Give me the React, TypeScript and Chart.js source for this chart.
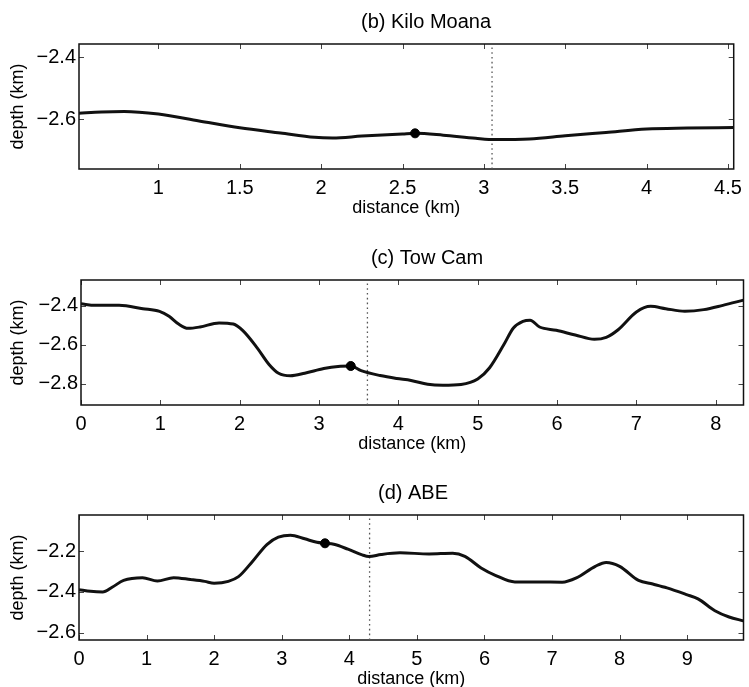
import React, { useEffect, useRef } from "react";
import { Chart, registerables } from "chart.js";

Chart.register(...registerables);

// ---------- (b) Kilo Moana ----------
const kiloDistance = [0.51, 0.65, 0.79, 1.0, 1.25, 1.5, 1.75, 1.96, 2.07, 2.25, 2.5, 2.58, 2.75, 2.95, 3.07, 3.28, 3.5, 3.75, 4.0, 4.25, 4.54];
const kiloDepth = [-2.581, -2.577, -2.5755, -2.584, -2.606, -2.628, -2.645, -2.659, -2.661, -2.655, -2.648, -2.646, -2.652, -2.662, -2.666, -2.664, -2.654, -2.643, -2.632, -2.629, -2.627];
const kiloDot = { x: 2.577, y: -2.646 };
const kiloMarker = 3.05;
const kiloXTicks = [1, 1.5, 2, 2.5, 3, 3.5, 4, 4.5];
const kiloYTicks = [-2.4, -2.6];

// ---------- (c) Tow Cam ----------
const towDistance = [0, 0.18, 0.48, 0.78, 0.99, 1.11, 1.23, 1.35, 1.5, 1.74, 1.92, 2.04, 2.22, 2.37, 2.49, 2.64, 2.82, 3.06, 3.24, 3.4, 3.53, 3.77, 3.98, 4.16, 4.37, 4.56, 4.79, 5.0, 5.15, 5.33, 5.45, 5.57, 5.66, 5.78, 5.99, 6.23, 6.47, 6.62, 6.77, 7.0, 7.18, 7.37, 7.61, 7.85, 8.09, 8.35];
const towDepth = [-2.39, -2.398, -2.398, -2.415, -2.429, -2.454, -2.494, -2.516, -2.509, -2.488, -2.494, -2.528, -2.616, -2.701, -2.746, -2.759, -2.746, -2.722, -2.711, -2.709, -2.733, -2.758, -2.773, -2.783, -2.803, -2.808, -2.804, -2.776, -2.718, -2.599, -2.514, -2.48, -2.474, -2.509, -2.526, -2.55, -2.572, -2.562, -2.523, -2.432, -2.403, -2.415, -2.428, -2.42, -2.398, -2.371];
const towDot = { x: 3.4, y: -2.709 };
const towMarker = 3.61;
const towXTicks = [0, 1, 2, 3, 4, 5, 6, 7, 8];
const towYTicks = [-2.4, -2.6, -2.8];

// ---------- (d) ABE ----------
const abeDistance = [0, 0.17, 0.35, 0.49, 0.66, 0.94, 1.16, 1.4, 1.65, 1.86, 2.0, 2.21, 2.36, 2.57, 2.78, 2.95, 3.13, 3.34, 3.52, 3.64, 3.77, 3.98, 4.19, 4.29, 4.47, 4.75, 5.18, 5.53, 5.71, 5.95, 6.16, 6.45, 6.8, 7.15, 7.36, 7.64, 7.8, 8.0, 8.28, 8.49, 8.7, 8.99, 9.16, 9.41, 9.62, 9.83];
const abeDepth = [-2.389, -2.397, -2.4, -2.377, -2.343, -2.33, -2.346, -2.33, -2.339, -2.348, -2.357, -2.348, -2.325, -2.249, -2.167, -2.131, -2.121, -2.139, -2.156, -2.161, -2.166, -2.19, -2.218, -2.226, -2.216, -2.208, -2.213, -2.21, -2.225, -2.282, -2.318, -2.351, -2.351, -2.352, -2.331, -2.274, -2.255, -2.274, -2.343, -2.361, -2.38, -2.413, -2.434, -2.492, -2.523, -2.542];
const abeDot = { x: 3.64, y: -2.161 };
const abeMarker = 4.3;
const abeXTicks = [0, 1, 2, 3, 4, 5, 6, 7, 8, 9];
const abeYTicks = [-2.2, -2.4, -2.6];

const FONT = "'Liberation Sans', Arial, Helvetica, sans-serif";
const W = 749;
const H = 230;
const BOX_TOP = 44;
const BOX_BOTTOM = 169;

type PanelDef = {
  title: string;
  xs: number[];
  ys: number[];
  dot: { x: number; y: number };
  marker: number;
  xTicks: number[];
  yTicks: number[];
  xMin: number;
  xMax: number;
  yMin: number;
  yMax: number;
  top: number;
  left: number;
  right: number;
  titleX: number;
};

const panels: PanelDef[] = [
  {
    title: "(b) Kilo Moana", xs: kiloDistance, ys: kiloDepth, dot: kiloDot, marker: kiloMarker,
    xTicks: kiloXTicks, yTicks: kiloYTicks, xMin: 0.512, xMax: 4.535, yMin: -2.761, yMax: -2.358,
    top: 0, left: 79, right: 739, titleX: 426,
  },
  {
    title: "(c) Tow Cam", xs: towDistance, ys: towDepth, dot: towDot, marker: towMarker,
    xTicks: towXTicks, yTicks: towYTicks, xMin: 0, xMax: 8.35, yMin: -2.909, yMax: -2.268,
    top: 236, left: 81, right: 747, titleX: 427,
  },
  {
    title: "(d) ABE", xs: abeDistance, ys: abeDepth, dot: abeDot, marker: abeMarker,
    xTicks: abeXTicks, yTicks: abeYTicks, xMin: 0, xMax: 9.833, yMin: -2.636, yMax: -2.022,
    top: 471, left: 79, right: 746, titleX: 413,
  },
];

const fmt = (v: number) => (v < 0 ? "\u2212" + String(Math.abs(v)) : String(v));

function PanelChart({ p }: { p: PanelDef }) {
  const ref = useRef<HTMLCanvasElement>(null);
  useEffect(() => {
    const boxPlugin = {
      id: "matlabBox",
      beforeDatasetsDraw(chart: any) {
        const { ctx, chartArea: a, scales } = chart;
        ctx.save();
        ctx.strokeStyle = "#444";
        ctx.lineWidth = 1;
        const tl = 5;
        p.xTicks.forEach((v) => {
          const x = Math.round(scales.x.getPixelForValue(v)) + 0.5;
          ctx.beginPath();
          ctx.moveTo(x, a.bottom);
          ctx.lineTo(x, a.bottom - tl);
          ctx.moveTo(x, a.top);
          ctx.lineTo(x, a.top + tl);
          ctx.stroke();
        });
        p.yTicks.forEach((v) => {
          const y = Math.round(scales.y.getPixelForValue(v)) + 0.5;
          ctx.beginPath();
          ctx.moveTo(a.left, y);
          ctx.lineTo(a.left + tl, y);
          ctx.moveTo(a.right, y);
          ctx.lineTo(a.right - tl, y);
          ctx.stroke();
        });
        ctx.strokeStyle = "#111";
        ctx.lineWidth = 1.5;
        ctx.strokeRect(a.left, a.top, a.right - a.left, a.bottom - a.top);
        ctx.restore();
      },
      afterDraw(chart: any) {
        const { ctx } = chart;
        ctx.save();
        ctx.fillStyle = "#000";
        ctx.font = `20px ${FONT}`;
        ctx.textAlign = "center";
        ctx.textBaseline = "middle";
        ctx.fillText(p.title, p.titleX, 22);
        ctx.restore();
      },
    };

    const chart = new Chart(ref.current as HTMLCanvasElement, {
      type: "line",
      data: {
        datasets: [
          {
            data: [p.dot],
            showLine: false,
            pointRadius: 4.5,
            pointBackgroundColor: "#000",
            pointBorderColor: "#000",
            order: 0,
          } as any,
          {
            data: p.xs.map((x, i) => ({ x, y: p.ys[i] })),
            borderColor: "#111",
            borderWidth: 3,
            pointRadius: 0,
            cubicInterpolationMode: "monotone",
            fill: false,
            order: 1,
          } as any,
          {
            data: [
              { x: p.marker, y: p.yMin },
              { x: p.marker, y: p.yMax },
            ],
            borderColor: "#555",
            borderWidth: 1.3,
            borderDash: [1.6, 3.2],
            pointRadius: 0,
            fill: false,
            order: 2,
          } as any,
        ],
      },
      options: {
        responsive: false,
        animation: false,
        devicePixelRatio: 1,
        layout: { padding: { left: 0, top: BOX_TOP, bottom: 0, right: W - p.right } },
        plugins: {
          legend: { display: false },
          tooltip: { enabled: false },
          title: { display: false },
        },
        scales: {
          x: {
            type: "linear",
            min: p.xMin,
            max: p.xMax,
            grid: { display: false, drawTicks: false },
            border: { display: false },
            ticks: {
              font: { family: FONT, size: 20 },
              color: "#000",
              padding: 7,
              maxRotation: 0,
              autoSkip: false,
              callback: (v: any) => fmt(Number(v)),
            },
            afterBuildTicks: (s: any) => {
              s.ticks = p.xTicks.map((v) => ({ value: v }));
            },
            afterFit: (s: any) => {
              s.height = H - BOX_BOTTOM;
            },
            title: {
              display: true,
              text: "distance (km)",
              font: { family: FONT, size: 18 },
              color: "#000",
              padding: { top: 0, bottom: 11 },
            },
          },
          y: {
            type: "linear",
            min: p.yMin,
            max: p.yMax,
            grid: { display: false, drawTicks: false },
            border: { display: false },
            ticks: {
              font: { family: FONT, size: 20 },
              color: "#000",
              padding: 3,
              autoSkip: false,
              callback: (v: any) => fmt(Number(v)),
            },
            afterBuildTicks: (s: any) => {
              s.ticks = p.yTicks.map((v) => ({ value: v }));
            },
            afterFit: (s: any) => {
              s.width = p.left;
            },
            title: {
              display: true,
              text: "depth (km)",
              font: { family: FONT, size: 18 },
              color: "#000",
              padding: { top: 7, bottom: 0 },
            },
          },
        },
      } as any,
      plugins: [boxPlugin],
    });
    return () => chart.destroy();
  }, []);

  return (
    <div style={{ position: "absolute", left: 0, top: p.top, width: W, height: H }}>
      <canvas ref={ref} width={W} height={H} style={{ display: "block" }} />
    </div>
  );
}

export default function App() {
  return (
    <div
      style={{
        position: "absolute",
        left: 0,
        top: 0,
        width: W,
        height: 687,
        overflow: "hidden",
        background: "#fff",
      }}
    >
      {panels.map((p, i) => (
        <PanelChart key={i} p={p} />
      ))}
    </div>
  );
}
